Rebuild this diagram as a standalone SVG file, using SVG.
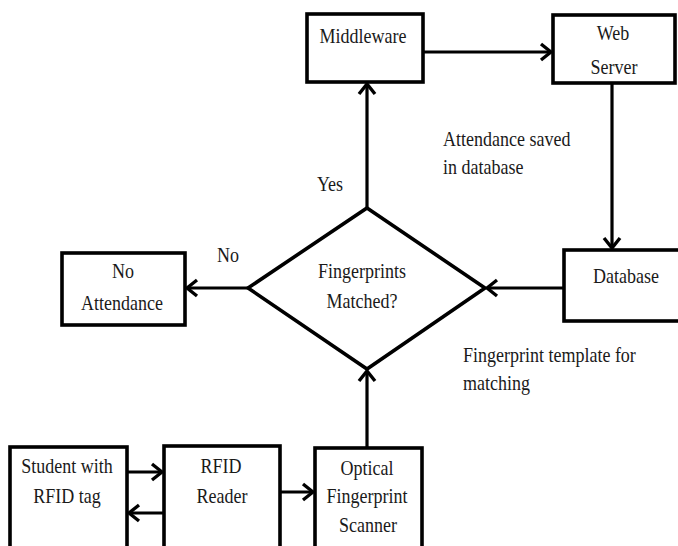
<svg xmlns="http://www.w3.org/2000/svg" width="678" height="546" viewBox="0 0 678 546">
<defs>
<marker id="ah" viewBox="0 0 16 20" refX="14" refY="10" markerWidth="16" markerHeight="20" markerUnits="userSpaceOnUse" orient="auto">
<path d="M4,2 L14,10 L4,18" fill="none" stroke="#000" stroke-width="3.4"/>
</marker>
<style>
.b{fill:#fff;stroke:#000;stroke-width:3.6}
.t{font-family:"Liberation Serif","Times New Roman",serif;font-size:20px;fill:#1a1a1a;text-anchor:middle}
.l{font-family:"Liberation Serif","Times New Roman",serif;font-size:20px;fill:#1a1a1a}
.c{fill:none;stroke:#000;stroke-width:3.2;marker-end:url(#ah)}
</style>
</defs>
<rect width="678" height="546" fill="#fff"/>
<g id="middleware"><rect class="b" x="307" y="14" width="116" height="68"/><text class="t" transform="translate(363 43) scale(.9 1)">Middleware</text></g>
<g id="webserver"><rect class="b" x="553" y="15" width="122" height="68"/><text class="t" transform="translate(613 40) scale(.9 1)">Web</text><text class="t" transform="translate(614 74) scale(.9 1)">Server</text></g>
<g id="database"><rect class="b" x="564" y="250" width="130" height="71"/><text class="t" transform="translate(626 283) scale(.9 1)">Database</text></g>
<g id="decision"><polygon class="b" points="367,208 485,288 367,369 248,288"/><text class="t" transform="translate(362 278) scale(.9 1)">Fingerprints</text><text class="t" transform="translate(362 308) scale(.9 1)">Matched?</text></g>
<g id="noattendance"><rect class="b" x="62" y="253" width="123" height="72"/><text class="t" transform="translate(123 278) scale(.9 1)">No</text><text class="t" transform="translate(122 310) scale(.9 1)">Attendance</text></g>
<g id="student"><rect class="b" x="10" y="447" width="117" height="115"/><text class="t" transform="translate(67 473) scale(.9 1)">Student with</text><text class="t" transform="translate(67 503) scale(.9 1)">RFID tag</text></g>
<g id="rfid"><rect class="b" x="164" y="446" width="116" height="115"/><text class="t" transform="translate(221 473) scale(.9 1)">RFID</text><text class="t" transform="translate(222 503) scale(.9 1)">Reader</text></g>
<g id="scanner"><rect class="b" x="315" y="448" width="107" height="115"/><text class="t" transform="translate(367 475) scale(.9 1)">Optical</text><text class="t" transform="translate(367 503) scale(.9 1)">Fingerprint</text><text class="t" transform="translate(368 532) scale(.9 1)">Scanner</text></g>
<g id="connectors">
<line class="c" x1="423" y1="52" x2="551" y2="52"/>
<line class="c" x1="367" y1="208" x2="367" y2="84"/>
<line class="c" x1="612" y1="83" x2="612" y2="248"/>
<line class="c" x1="564" y1="288" x2="487" y2="288"/>
<line class="c" x1="248" y1="288" x2="187" y2="288"/>
<line class="c" x1="367" y1="448" x2="367" y2="371"/>
<line class="c" x1="127" y1="472" x2="162" y2="472"/>
<line class="c" x1="164" y1="513" x2="129" y2="513"/>
<line class="c" x1="280" y1="492" x2="313" y2="492"/>
</g>
<g id="labels">
<text class="t" transform="translate(330 191) scale(.9 1)">Yes</text>
<text class="t" transform="translate(228 262) scale(.9 1)">No</text>
<text class="l" transform="translate(443 146) scale(.9 1)">Attendance saved</text>
<text class="l" transform="translate(443 174) scale(.9 1)">in database</text>
<text class="l" transform="translate(463 362) scale(.9 1)">Fingerprint template for</text>
<text class="l" transform="translate(463 390) scale(.9 1)">matching</text>
</g>
</svg>
